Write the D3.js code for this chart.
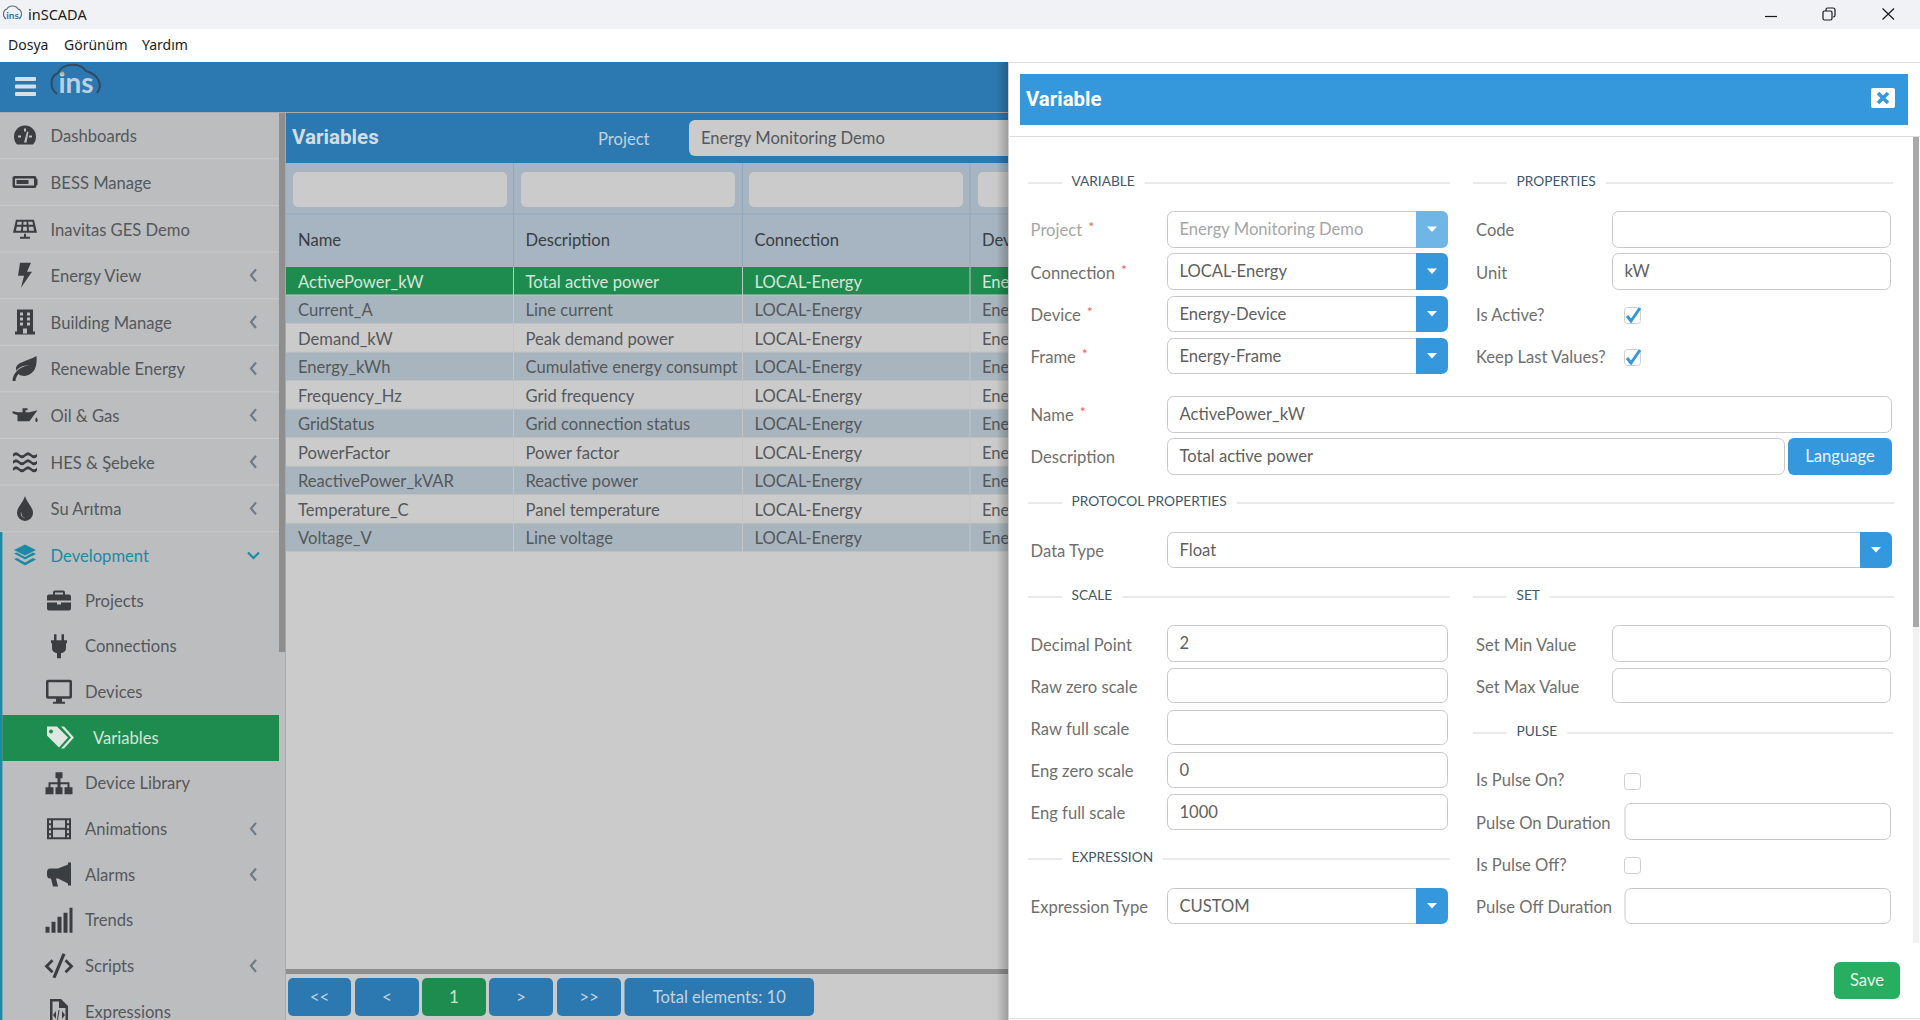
<!DOCTYPE html>
<html><head><meta charset="utf-8">
<script src="https://cdn.jsdelivr.net/npm/d3@7/dist/d3.min.js"></script>
<style>html,body{margin:0;padding:0;background:#fff;overflow:hidden}svg{display:block}text{font-family:Lato,"Noto Sans",sans-serif;white-space:pre}</style>
</head><body><svg id="c" width="1920" height="1020"></svg>
<script>
// ---------- content ----------
const windowTitle = "inSCADA";
const menuItems = ["Dosya", "Görünüm", "Yardım"];
const navTop = ["Dashboards","BESS Manage","Inavitas GES Demo","Energy View","Building Manage","Renewable Energy","Oil & Gas","HES & Şebeke","Su Arıtma","Development"];
const navTopIcons = ["gauge","battery","solar","bolt","building","leaf","oil","water","drop","layers"];
const navTopChevron = [0,0,0,1,1,1,1,1,1,2];
const navSub = ["Projects","Connections","Devices","Variables","Device Library","Animations","Alarms","Trends","Scripts","Expressions"];
const navSubIcons = ["case","plug","monitor","tags","tree","film","horn","signal","code","file"];
const navSubChevron = [0,0,0,0,0,1,1,0,1,0];
const columns = ["Name","Description","Connection","Dev"];
const varNames = ["ActivePower_kW","Current_A","Demand_kW","Energy_kWh","Frequency_Hz","GridStatus","PowerFactor","ReactivePower_kVAR","Temperature_C","Voltage_V"];
const varDescriptions = ["Total active power","Line current","Peak demand power","Cumulative energy consumpt","Grid frequency","Grid connection status","Power factor","Reactive power","Panel temperature","Line voltage"];
const varConnections = ["LOCAL-Energy","LOCAL-Energy","LOCAL-Energy","LOCAL-Energy","LOCAL-Energy","LOCAL-Energy","LOCAL-Energy","LOCAL-Energy","LOCAL-Energy","LOCAL-Energy"];
const varDevices = ["Ene","Ene","Ene","Ene","Ene","Ene","Ene","Ene","Ene","Ene"];
const pagerLabels = ["<<","<","1",">",">>","Total elements: 10"];

const svg = d3.select("#c");
const defs = svg.append("defs");
const FS = 16.6;
const C = {blue:"#2b79b0",panelBlue:"#3598dc",green:"#1f8c4f",side:"#bcbdbf",content:"#cbcbcb",rowA:"#a9b5be",head:"#a6b5c1",dark:"#3b3e41",text:"#54585b",label:"#6f6f6f",val:"#5f5f5f",line:"#dddddd",box:"#c9c9c9"};
const R = (g,x0,y0,x1,y1,f,rx=0)=>g.append("rect").attr("x",x0).attr("y",y0).attr("width",x1-x0).attr("height",y1-y0).attr("fill",f).attr("rx",rx);
const T = (g,s,x,y,size,fill,o={})=>g.append("text").text(s).attr("x",x).attr("y",y).attr("dy",".35em").attr("font-size",size).attr("fill",fill)
  .attr("font-weight",o.w||400).attr("text-anchor",o.a||"start").style("font-family",o.f||null);

// ---------- window chrome ----------
R(svg,0,0,1920,1020,"#fff");
R(svg,0,0,1920,29,"#f1f2f5");
const tb = svg.append("g");
tb.append("path").attr("d","M6 19C2 16 3 10 7 9C9 5 16 5 18 9C22 10 23 16 19 19").attr("fill","none").attr("stroke","#5d6f7e").attr("stroke-width",1.1);
T(tb,"ins",12.5,15.5,10,"#2b79b0",{a:"middle",w:700});
T(tb,windowTitle,28,15,14.5,"#1c1c1c",{f:"'Noto Sans'"});
const mx = d3.scaleOrdinal().domain(menuItems).range([8,64,142]);
menuItems.forEach(m=>T(svg,m,mx(m),45,14,"#1c1c1c",{f:"'Noto Sans'"}));
const wb = svg.append("g").attr("fill","none").attr("stroke","#1a1a1a").attr("stroke-width",1.2);
wb.append("path").attr("d","M1765 16.5H1777");
wb.append("rect").attr("x",1823).attr("y",11).attr("width",9).attr("height",9).attr("rx",1.5);
wb.append("path").attr("d","M1826 11V9.5Q1826 8 1827.5 8H1833Q1835 8 1835 10V15.5Q1835 17 1833 17");
wb.append("path").attr("d","M1882.5 8.5L1894 19.5M1894 8.5L1882.5 19.5");

// ---------- app header ----------
R(svg,0,62,1008,112,C.blue);
R(svg,0,112,1008,113,"#a8adb2");
[77,84.5,92].forEach(y=>R(svg,15,y,36,y+4,"#d6e0e8",1));
const lg = svg.append("g");
lg.append("path").attr("d","M57 94C49 88 50 76 58 73C62 63 80 62 86 71C97 74 104 84 97 93").attr("fill","none").attr("stroke","#34495e").attr("stroke-width",2);
T(lg,"ins",76,83,28,"#bcd0e0",{a:"middle",w:700});
lg.append("circle").attr("cx",62.5).attr("cy",73).attr("r",1.6).attr("fill","#e0a83a");

// ---------- icons ----------
const iconPaths = {
 gauge:"M12 2A11 11 0 0 0 1 13C1 16 2 19 4 21H20C22 19 23 16 23 13A11 11 0 0 0 12 2ZM11 5H13V8H11ZM5 12H8V14H5ZM16 12H19V14H16ZM11 19L14 8L15.5 8.5L13.5 19Z",
 battery:"M2 6H22Q24 6 24 8V9H25V15H24V16Q24 18 22 18H2Q0 18 0 16V8Q0 6 2 6ZM2.5 8.5V15.5H21.5V8.5ZM4 10H16V14H4Z",
 solar:"M3 2H21L24 15H0ZM4.5 4L4 7H8.5L8.8 4ZM10.5 4L10.3 7H13.7L13.5 4ZM15.2 4L15.5 7H20L19.5 4ZM3.7 9L3 13H8L8.3 9ZM10.2 9L10 13H14L13.8 9ZM15.7 9L16 13H21L20.3 9ZM11 16H13V19H17V21H7V19H11Z",
 bolt:"M7 0H18L14 9H19L8 25L11 13H5Z",
 building:"M4 0H20V22H22V25H2V22H4ZM7 3V6H10V3ZM14 3V6H17V3ZM7 8V11H10V8ZM14 8V11H17V8ZM7 13V16H10V13ZM14 13V16H17V13ZM10 19V24H14V19Z",
 leaf:"M24 0C25 10 22 19 12 20C9 20 7 19 6 18C4 20 3 23 3 25H0C0 19 5 11 17 9C10 9 4 13 4 15C1 6 14 6 24 0Z",
 oil:"M10 4H15V6H13V8H17L25 6L17 17H5V11L0 9V7L5 8H10V6ZM24 13C25 15 26 16 24.5 17.5S22 15 24 13Z",
 water:"M0 3Q3 0 6 3Q9 6 12 3Q15 0 18 3Q21 6 24 3V6Q21 9 18 6Q15 3 12 6Q9 9 6 6Q3 3 0 6ZM0 10Q3 7 6 10Q9 13 12 10Q15 7 18 10Q21 13 24 10V13Q21 16 18 13Q15 10 12 13Q9 16 6 13Q3 10 0 13ZM0 17Q3 14 6 17Q9 20 12 17Q15 14 18 17Q21 20 24 17V20Q21 23 18 20Q15 17 12 20Q9 23 6 20Q3 17 0 20Z",
 drop:"M11 0C13 7 19 11 19 17A8 8 0 0 1 3 17C3 11 9 7 11 0ZM7 16C6 20 9 22 11 22C8 21 8 19 7 16Z",
 layers:"M12 0L23 5.5L12 11L1 5.5ZM1 9L4 8L12 12.5L20 8L23 9.5L12 15ZM1 14.5L4 13.5L12 18L20 13.5L23 15L12 21Z",
 case:"M8 2H16Q18 2 18 4V6H22Q24 6 24 8V12H0V8Q0 6 2 6H6V4Q6 2 8 2ZM8 4V6H16V4ZM0 14H10V16H14V14H24V20Q24 22 22 22H2Q0 22 0 20Z",
 plug:"M6 0H8.5V6H13.5V0H16V6H19V9H18V14Q18 18 13 19V24H9V19Q4 18 4 14V9H3V6H6Z",
 monitor:"M2 1H24Q26 1 26 3V18Q26 20 24 20H16V23H19V25H7V23H10V20H2Q0 20 0 18V3Q0 1 2 1ZM2.5 3.5V17.5H23.5V3.5Z",
 tags:"M1 2H11L22 13L13 23L1 11ZM5 5A2 2 0 1 0 5.01 5ZM15 2L18 2L28 13L18 24L15 24L25 13Z",
 tree:"M10 0H17V6H15V10H24V15H27V22H19V15H22V12H15V15H17V22H10V15H12V12H5V15H8V22H0V15H3V10H12V6H10Z",
 film:"M0 2H24V23H0ZM2 4V7H4V4ZM2 9V12H4V9ZM2 14V17H4V14ZM2 19V21H4V19ZM20 4V7H22V4ZM20 9V12H22V9ZM20 14V17H22V14ZM20 19V21H22V19ZM6 4V11.5H18V4ZM6 13.5V21H18V13.5Z",
 horn:"M21 0H24V23H21V21L11 16H9L11 24H6L4 16H3Q0 16 0 12V10Q0 6 3 6H11L21 2Z",
 signal:"M0 19H4V25H0ZM6 14H10V25H6ZM12 9H16V25H12ZM18 5H22V25H18ZM24 0H27V25H24Z",
 code:"M17 0L20 1L10 25L7 24ZM6 6L8 8L3 13L8 18L6 20L-1 13ZM21 6L28 13L21 20L19 18L24 13L19 8Z",
 file:"M0 0H11L18 7V25H0ZM2.5 2.5V22.5H15.5V9H9V2.5ZM6 12L3 16L6 20ZM12 12V20L15 16ZM9.5 11L8 21L7 21L8.5 11Z"
};
const icon = (g,k,cx,cy,bw,bh,fill)=>g.append("path").attr("d",iconPaths[k]).attr("fill",fill).attr("fill-rule","evenodd").attr("transform",`translate(${cx-bw/2},${cy-bh/2})`);
const iconBox = {gauge:[24,24],battery:[25,24],solar:[24,22],bolt:[24,25],building:[24,25],leaf:[25,25],oil:[25,22],water:[24,22],drop:[22,25],layers:[24,21],case:[24,24],plug:[22,24],monitor:[26,26],tags:[27,26],tree:[27,22],film:[24,25],horn:[24,24],signal:[27,25],code:[27,25],file:[18,25]};

// ---------- sidebar ----------
const side = svg.append("g");
R(side,0,113,286,1020,C.side);
R(side,279,113,285,652,"#8e8e8e");
R(side,285,113,286,1020,"#a8a8a8");
const yTop = d3.scalePoint().domain(navTop).range([135.5,555]);
const yStep = yTop.step();
navTop.forEach((n,i)=>{
  const y = yTop(n), dev = n==="Development", col = dev?"#1c8aa6":C.dark;
  if(i>0) R(side,0,y-yStep/2-.5,279,y-yStep/2+.5,"#c9caca");
  icon(side,navTopIcons[i],25,y,iconBox[navTopIcons[i]][0],iconBox[navTopIcons[i]][1],col);
  T(side,n,50.6,y+1,FS,dev?"#1c8aa6":C.text);
  if(navTopChevron[i]===1) side.append("path").attr("d",`M256 ${y-6}L251 ${y}L256 ${y+6}`).attr("fill","none").attr("stroke","#6d7a88").attr("stroke-width",2.2);
  if(navTopChevron[i]===2) side.append("path").attr("d",`M248 ${y-2.5}L253.5 ${y+3}L259 ${y-2.5}`).attr("fill","none").attr("stroke","#1c8aa6").attr("stroke-width",2.2);
});
R(side,0,532,2.4,1020,"#1c8aa6");
const ySub = d3.scalePoint().domain(navSub).range([600.5,1011.5]);
R(side,2.4,715,279,761,C.green);
navSub.forEach((n,i)=>{
  const y = ySub(n), act = n==="Variables";
  icon(side,navSubIcons[i],act?59.5:59,y,iconBox[navSubIcons[i]][0],iconBox[navSubIcons[i]][1],act?"#dde9e0":C.dark);
  T(side,n,act?93:85,y+.5,FS,act?"#d5e6da":C.text);
  if(navSubChevron[i]) side.append("path").attr("d",`M256 ${y-6}L251 ${y}L256 ${y+6}`).attr("fill","none").attr("stroke","#6d7a88").attr("stroke-width",2.2);
});

// ---------- variables table ----------
const main = svg.append("g");
R(main,286,113,1008,1020,C.content);
R(main,286,113,1008,163,C.blue);
T(main,"Variables",292,137,20.6,"#d3dde5",{w:700,f:"Roboto"});
T(main,"Project",598,139,FS,"#c6d2db");
R(main,689,120,1020,156,C.content,6);
T(main,"Energy Monitoring Demo",701,138,FS,C.text);
R(main,286,163,1008,267,C.head);
R(main,286,213.5,1008,214.5,"#92a9bd");
const colEdges = [286,513.5,742.5,970];
const filterLeft = [293,521,749,978];
columns.forEach((c,i)=>{
  R(main,filterLeft[i],172,filterLeft[i]+214,207,C.content,5);
  T(main,c,colEdges[i]+12,240,FS,C.dark);
});
const yRow = d3.scaleBand().domain(varNames).range([267,552]);
varNames.forEach((n,r)=>{
  const y = yRow(n), h = yRow.bandwidth(), act = r===0;
  R(main,286,y,1008,y+h-.8,act?C.green:(r%2?C.rowA:C.content));
  R(main,286,y+h-.8,1008,y+h,"#bdbfc0");
  [n,varDescriptions[r],varConnections[r],varDevices[r]].forEach((v,i)=>{
    T(main,v,colEdges[i]+12,y+h/2+.5,FS,act?"#d6e6da":C.text);
  });
});
[513.5,742.5,970].forEach(x=>{
  R(main,x-.5,163,x+.5,267,"#92a9bd");
  R(main,x-.5,267,x+.5,552,"#c2c4c5");
});
R(main,286,969,1008,974,"#8e8e8e");
const pagerX = [[288,351],[355,419],[422,486],[489,553],[557,621],[624.5,814]];
pagerLabels.forEach((p,i)=>{
  R(main,pagerX[i][0],978,pagerX[i][1],1016,i===2?C.green:C.blue,5);
  T(main,p,(pagerX[i][0]+pagerX[i][1])/2,997,i===5?FS:17,i===2?"#cde0d2":"#c5d3de",{a:"middle"});
});

// ---------- modal panel ----------
const grad = defs.append("linearGradient").attr("id","sh");
grad.append("stop").attr("offset",0).attr("stop-color","#000").attr("stop-opacity",0);
grad.append("stop").attr("offset",1).attr("stop-color","#000").attr("stop-opacity",.22);
R(svg,996,62,1008,1020,"url(#sh)");
const p = svg.append("g");
R(p,1008,62,1920,1020,"#fff");
R(p,1008,62,1009,1020,"#d0d0d0");
R(p,1008,62,1920,63,C.line);
R(p,1008,136,1920,137,C.line);
R(p,1008,1018,1920,1019,C.line);
R(p,1020,74,1908,125,C.panelBlue);
T(p,"Variable",1026,99,20.4,"#fff",{w:700,f:"Roboto"});
R(p,1871,88,1895,108,"#fff",2);
p.append("path").attr("d","M1878 93L1888 103M1888 93L1878 103").attr("stroke",C.panelBlue).attr("stroke-width",3.6);
R(p,1913,137,1919,943,"#f1f1f1");
R(p,1913,137,1919,627,"#a9a9a9");

const section = (s,x0,x1,y)=>{
  R(p,x0,y-.6,x0+34,y+.6,C.line);
  const t = T(p,s,x0+43.5,y-1.5,13.7,"#41576b");
  const w = t.node().getComputedTextLength();
  R(p,x0+43.5+w+10,y-.6,x1,y+.6,C.line);
};
section("VARIABLE",1028,1450,183);
section("PROPERTIES",1473,1893,183);
section("PROTOCOL PROPERTIES",1028,1894,503);
section("SCALE",1028,1450,597);
section("SET",1473,1894,597);
section("PULSE",1473,1893,733);
section("EXPRESSION",1028,1450,859);

const box = (x0,y0,x1,y1,val,dis)=>{
  p.append("rect").attr("x",x0+.5).attr("y",y0+.5).attr("width",x1-x0-1).attr("height",y1-y0-1).attr("rx",6).attr("fill","#fff").attr("stroke",C.box);
  if(val) T(p,val,x0+12.5,(y0+y1)/2,FS,dis?"#a6a6a6":C.val);
};
const drop = (x0,x1,y0,y1,col)=>{
  p.append("path").attr("d",`M${x0} ${y0}H${x1-7}Q${x1} ${y0} ${x1} ${y0+7}V${y1-7}Q${x1} ${y1} ${x1-7} ${y1}H${x0}Z`).attr("fill",col);
  const cx=(x0+x1)/2, cy=(y0+y1)/2-.5;
  p.append("path").attr("d",`M${cx-5} ${cy-2.5}H${cx+5}L${cx} ${cy+3}Z`).attr("fill","#fff");
};
const label = (s,x,y,req,dis)=>{
  const t = T(p,s,x,y,FS,dis?"#a6a6a6":C.label);
  if(req){ const w=t.node().getComputedTextLength(); T(p,"*",x+w+6,y-3,14,"#e0685c"); }
};
const check = (y0,on)=>{
  p.append("rect").attr("x",1624.5).attr("y",y0+.5).attr("width",16).attr("height",16).attr("rx",3).attr("fill","#fff").attr("stroke","#cfcfcf");
  if(on) p.append("path").attr("d",`M1627 ${y0+9}L1631 ${y0+14}L1640 ${y0+1}`).attr("fill","none").attr("stroke",C.panelBlue).attr("stroke-width",3);
};

// left column
const LX=1030.6, BX0=1167, BX1=1448, FX1=1892, RL=1476, RX0=1612, RX1=1891, PX0=1624.5;
[["Project",230,211,248,"Energy Monitoring Demo",1,1],["Connection",273,253,290,"LOCAL-Energy",1,0],["Device",315,296,332,"Energy-Device",1,0],["Frame",357,338,374,"Energy-Frame",1,0]].forEach(([l,y,a,b,v,req,dis])=>{
  label(l,LX,y,req,dis); box(BX0,a,BX1,b,v,dis); drop(1416,BX1,a,b,dis?"#6fb5e5":C.panelBlue);
});
label("Name",LX,415,1); box(BX0,396,FX1,433,"ActivePower_kW");
label("Description",LX,457); box(BX0,438,1785,475,"Total active power");
R(p,1788,438,FX1,475,C.panelBlue,6);
T(p,"Language",1840,456,FS,"#eaf4fb",{a:"middle"});
label("Data Type",LX,551); box(BX0,532,FX1,568,"Float"); drop(1860,FX1,532,568,C.panelBlue);
[["Decimal Point",645,625,662,"2"],["Raw zero scale",687,668,703,""],["Raw full scale",729,710,745,""],["Eng zero scale",771,752,788,"0"],["Eng full scale",813,794,830,"1000"]].forEach(([l,y,a,b,v])=>{
  label(l,LX,y); box(BX0,a,BX1,b,v);
});
label("Expression Type",LX,907); box(BX0,888,BX1,924,"CUSTOM"); drop(1416,BX1,888,924,C.panelBlue);

// right column
label("Code",RL,230); box(RX0,211,RX1,248,"");
label("Unit",RL,273); box(RX0,253,RX1,290,"kW");
label("Is Active?",RL,315); check(307,true);
label("Keep Last Values?",RL,357); check(349,true);
label("Set Min Value",RL,645); box(RX0,625,RX1,662,"");
label("Set Max Value",RL,687); box(RX0,668,RX1,703,"");
label("Is Pulse On?",RL,780); check(773,false);
label("Pulse On Duration",RL,823); box(PX0,803,RX1,840,"");
label("Is Pulse Off?",RL,865); check(857,false);
label("Pulse Off Duration",RL,907); box(PX0,888,RX1,924,"");
R(p,1834,962,1900,999,"#27ae60",6);
T(p,"Save",1867,980.5,FS,"#e6f6ed",{a:"middle"});
</script></body></html>
